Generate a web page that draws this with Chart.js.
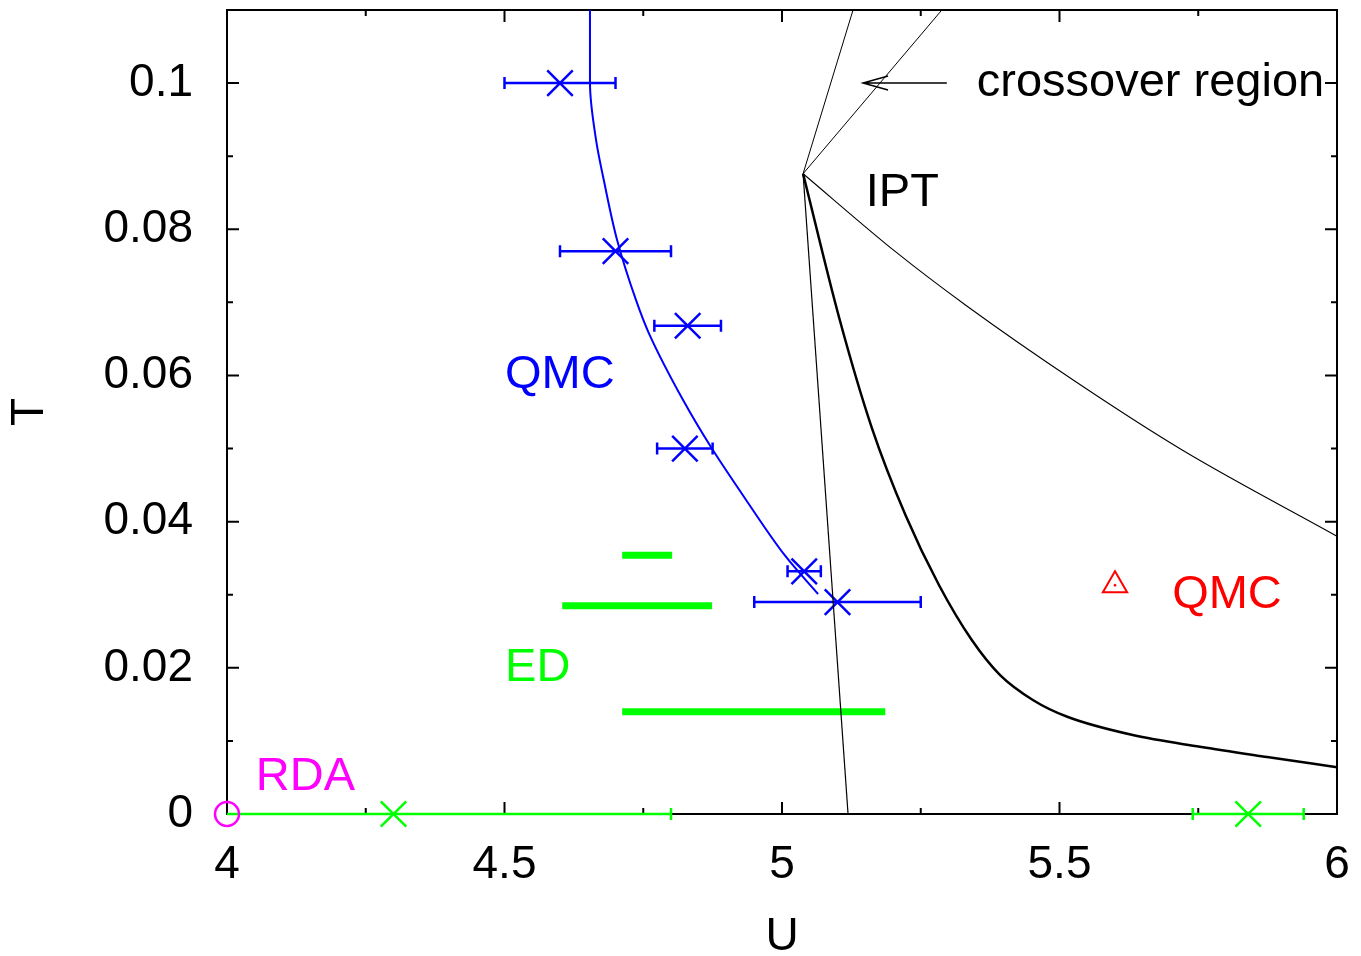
<!DOCTYPE html>
<html>
<head>
<meta charset="utf-8">
<script src="https://cdn.jsdelivr.net/npm/chart.js@4.4.1/dist/chart.umd.min.js"></script>
<style>
  html, body { margin: 0; padding: 0; background: #fff; }
  #wrap { width: 1361px; height: 956px; }
</style>
</head>
<body>
<div id="wrap"><canvas id="myChart"></canvas></div>
<script>
// axis ticks
const xTicks = [4, 4.5, 5, 5.5, 6]
const xTickLabels = ['4', '4.5', '5', '5.5', '6']
const xMinorTicks = [4.25, 4.75, 5.25, 5.75]
const yTicks = [0, 0.02, 0.04, 0.06, 0.08, 0.1]
const yTickLabels = ['0', '0.02', '0.04', '0.06', '0.08', '0.1']
const yMinorTicks = [0.01, 0.03, 0.05, 0.07, 0.09]

// QMC points (blue) with error in U
const qmcU = [4.6, 4.7, 4.83, 4.825, 5.04, 5.1]
const qmcT = [0.1, 0.077, 0.0668, 0.05, 0.0332, 0.029]
const qmcErr = [0.1, 0.1, 0.06, 0.05, 0.03, 0.15]

// blue line through QMC points
const qmcLineU = [4.654, 4.654, 4.665, 4.679, 4.703, 4.737, 4.760, 4.822, 4.872, 4.935, 5.007, 5.065]
const qmcLineT = [0.110, 0.100, 0.0922, 0.0867, 0.0785, 0.0703, 0.0658, 0.0566, 0.0502, 0.0430, 0.0352, 0.0301]

// ED ranges (green bars)
const edLow = [4.712, 4.604, 4.712]
const edHigh = [4.802, 4.874, 5.186]
const edT = [0.0354, 0.0285, 0.014]

// T = 0 points (green) with error in U
const zeroU = [4.3, 5.84]
const zeroT = [0, 0]
const zeroErr = [0.5, 0.1]

// RDA
const rdaU = [4.0]
const rdaT = [0]

// QMC (red)
const qmcRedU = [5.6]
const qmcRedT = [0.0313]

// IPT lines
const crossLeftU = [5.038, 5.128]
const crossLeftT = [0.0876, 0.11]
const crossRightU = [5.038, 5.288]
const crossRightT = [0.0876, 0.11]
const uc1U = [5.038, 5.119]
const uc1T = [0.0876, 0]
const upperU = [5.038, 5.205, 5.333, 5.528, 5.721, 6.0]
const upperT = [0.0876, 0.0769, 0.0695, 0.0592, 0.0498, 0.0380]
const lowerU = [5.038, 5.103, 5.162, 5.223, 5.283, 5.342, 5.393, 5.452, 5.514, 5.632, 5.753, 5.874, 6.0]
const lowerT = [0.0876, 0.0679, 0.0528, 0.0408, 0.0313, 0.0238, 0.0190, 0.0156, 0.0133, 0.0108, 0.0092, 0.0078, 0.0064]

// text labels in the plot
const notes = [
  { text: 'crossover region', u: 5.351, t: 0.1, color: '#000000' },
  { text: 'IPT', u: 5.151, t: 0.085, color: '#000000' },
  { text: 'QMC', u: 4.501, t: 0.06, color: '#0000ff' },
  { text: 'QMC', u: 5.703, t: 0.0299, color: '#ff0000' },
  { text: 'ED', u: 4.501, t: 0.02, color: '#00ff00' },
  { text: 'RDA', u: 4.052, t: 0.0051, color: '#ff00ff' }
]
const arrowFrom = [5.297, 0.1]
const arrowTo = [5.146, 0.1]

const FONT = "'Liberation Sans', Arial, Helvetica, sans-serif"
const BLUE = '#0000ff'
const GREEN = '#00ff00'

const pts = (u, t) => u.map((x, i) => ({ x: x, y: t[i] }))

const lineSet = (u, t, color, width, extra) => Object.assign({
  data: pts(u, t),
  showLine: true,
  pointRadius: 0,
  borderColor: color,
  borderWidth: width,
  fill: false,
  clip: false
}, extra || {})

const datasets = [
  lineSet(crossLeftU, crossLeftT, '#000', 1),
  lineSet(crossRightU, crossRightT, '#000', 1),
  lineSet(uc1U, uc1T, '#000', 1.2),
  lineSet(upperU, upperT, '#000', 1.1, { cubicInterpolationMode: 'monotone' }),
  lineSet(lowerU, lowerT, '#000', 2.5, { cubicInterpolationMode: 'monotone' }),
  // the QMC line is monotone in T, so interpolate along the T axis
  lineSet(qmcLineU, qmcLineT, BLUE, 2, { indexAxis: 'y', cubicInterpolationMode: 'monotone' })
]

edT.forEach((t, i) => {
  datasets.push(lineSet([edLow[i], edHigh[i]], [t, t], GREEN, 7, { borderCapStyle: 'butt' }))
})

datasets.push({
  data: pts(qmcU, qmcT), pointStyle: 'crossRot', pointRadius: 18,
  borderColor: BLUE, borderWidth: 2.5, clip: false
})
datasets.push({
  data: pts(zeroU, zeroT), pointStyle: 'crossRot', pointRadius: 18,
  borderColor: GREEN, borderWidth: 2.5, clip: false
})
datasets.push({
  data: pts(rdaU, rdaT), pointStyle: 'circle', pointRadius: 12,
  borderColor: '#ff00ff', backgroundColor: 'rgba(0,0,0,0)', borderWidth: 2.5, clip: false
})
datasets.push({
  data: pts(qmcRedU, qmcRedT), pointStyle: 'triangle', pointRadius: 14,
  borderColor: '#ff0000', backgroundColor: 'rgba(0,0,0,0)', borderWidth: 2, clip: false
})
datasets.push({
  data: pts(qmcRedU, qmcRedT), pointStyle: 'circle', pointRadius: 1,
  borderColor: '#ff0000', backgroundColor: '#ff0000', borderWidth: 1, clip: false
})

function errBars(ctx, x, y, us, ts, errs, color, cap) {
  ctx.strokeStyle = color
  ctx.lineWidth = 2.5
  ctx.beginPath()
  us.forEach((u, i) => {
    const py = y.getPixelForValue(ts[i])
    const lo = Math.max(u - errs[i], x.min)
    const hi = Math.min(u + errs[i], x.max)
    const p1 = x.getPixelForValue(lo)
    const p2 = x.getPixelForValue(hi)
    ctx.moveTo(p1, py)
    ctx.lineTo(p2, py)
    if (u - errs[i] >= x.min) {
      ctx.moveTo(p1, py - cap)
      ctx.lineTo(p1, py + cap)
    }
    if (u + errs[i] <= x.max) {
      ctx.moveTo(p2, py - cap)
      ctx.lineTo(p2, py + cap)
    }
  })
  ctx.stroke()
}

const framePlugin = {
  id: 'framePlugin',
  beforeDatasetsDraw(chart) {
    const { ctx, chartArea: a, scales: { x, y } } = chart
    ctx.save()
    ctx.strokeStyle = '#000'
    ctx.lineWidth = 2
    ctx.strokeRect(a.left, a.top, a.right - a.left, a.bottom - a.top)
    ctx.beginPath()
    const tickX = (list, len) => list.forEach(v => {
      const px = x.getPixelForValue(v)
      ctx.moveTo(px, a.bottom); ctx.lineTo(px, a.bottom - len)
      ctx.moveTo(px, a.top); ctx.lineTo(px, a.top + len)
    })
    const tickY = (list, len) => list.forEach(v => {
      const py = y.getPixelForValue(v)
      ctx.moveTo(a.left, py); ctx.lineTo(a.left + len, py)
      ctx.moveTo(a.right, py); ctx.lineTo(a.right - len, py)
    })
    tickX(xTicks, 12); tickX(xMinorTicks, 6)
    tickY(yTicks, 12); tickY(yMinorTicks, 6)
    ctx.stroke()

    errBars(ctx, x, y, qmcU, qmcT, qmcErr, BLUE, 6)
    errBars(ctx, x, y, zeroU, zeroT, zeroErr, GREEN, 6)
    ctx.restore()
  },
  afterDatasetsDraw(chart) {
    const { ctx, scales: { x, y } } = chart
    ctx.save()
    ctx.font = '47px ' + FONT
    ctx.textBaseline = 'middle'
    ctx.textAlign = 'left'
    notes.forEach(n => {
      ctx.fillStyle = n.color
      ctx.fillText(n.text, x.getPixelForValue(n.u), y.getPixelForValue(n.t))
    })
    // arrow
    const fx = x.getPixelForValue(arrowFrom[0]), fy = y.getPixelForValue(arrowFrom[1])
    const tx = x.getPixelForValue(arrowTo[0]), ty = y.getPixelForValue(arrowTo[1])
    ctx.strokeStyle = '#000'
    ctx.lineWidth = 1.5
    ctx.beginPath()
    ctx.moveTo(fx, fy); ctx.lineTo(tx, ty)
    ctx.moveTo(tx + 25, ty - 7); ctx.lineTo(tx, ty); ctx.lineTo(tx + 25, ty + 7)
    ctx.stroke()
    ctx.restore()
  }
}

const ctx = document.getElementById('myChart')
new Chart(ctx, {
  type: 'scatter',
  data: { datasets: datasets },
  options: {
    responsive: true,
    maintainAspectRatio: false,
    animation: false,
    events: [],
    layout: { autoPadding: false, padding: { top: 10, right: 24, left: 0, bottom: 0 } },
    plugins: { legend: { display: false }, tooltip: { enabled: false } },
    scales: {
      x: {
        type: 'linear', min: 4, max: 6,
        afterBuildTicks: s => { s.ticks = xTicks.map(v => ({ value: v })) },
        afterFit: s => {
          s.height = 142
          s.paddingLeft = 0
          s.paddingRight = 0
        },
        grid: { display: false, drawTicks: false },
        border: { display: false },
        ticks: {
          callback: (v, i) => xTickLabels[i],
          font: { family: FONT, size: 46 }, color: '#000',
          padding: 24, maxRotation: 0, autoSkip: false
        },
        title: {
          display: true, text: 'U', color: '#000',
          font: { family: FONT, size: 46, lineHeight: 0.82 },
          padding: { top: 0, bottom: 0 }
        }
      },
      y: {
        type: 'linear', min: 0, max: 0.11,
        afterBuildTicks: s => { s.ticks = yTicks.map(v => ({ value: v })) },
        afterFit: s => {
          s.width = 227
          s.paddingTop = 0
          s.paddingBottom = 0
        },
        grid: { display: false, drawTicks: false },
        border: { display: false },
        ticks: {
          callback: (v, i) => yTickLabels[i],
          font: { family: FONT, size: 46 }, color: '#000',
          padding: 34, autoSkip: false
        },
        title: {
          display: true, text: 'T', color: '#000',
          font: { family: FONT, size: 46, lineHeight: 1 },
          padding: { top: 7, bottom: 0 }
        }
      }
    }
  },
  plugins: [framePlugin]
})
</script>
</body>
</html>
